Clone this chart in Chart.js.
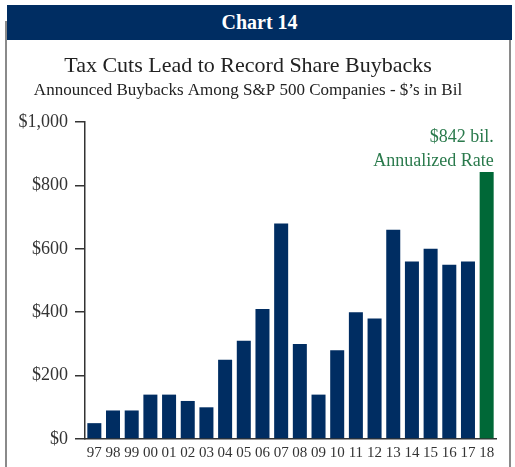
<!DOCTYPE html>
<html>
<head>
<meta charset="utf-8">
<script src="https://cdn.jsdelivr.net/npm/chart.js@4/dist/chart.umd.min.js"></script>
<style>
  html, body { margin: 0; padding: 0; background: #ffffff; }
  body { width: 515px; height: 467px; position: relative; overflow: hidden; }
  #header { position: absolute; left: 7px; top: 5px; width: 505px; height: 35px; background: #002d62;
    color: #ffffff; font: bold 20px 'Liberation Serif', 'DejaVu Serif', serif; text-align: center; line-height: 35px; }
  #lb { position: absolute; left: 5px; top: 21px; width: 2px; height: 446px; background: #8a8a8a; }
  #rb { position: absolute; left: 509px; top: 40px; width: 2px; height: 427px; background: #8a8a8a; }
  #wrap { position: absolute; left: 0; top: 0; width: 515px; height: 467px; }
  canvas { display: block; }
</style>
</head>
<body>
<div id="lb"></div>
<div id="rb"></div>
<div id="wrap"><canvas id="c" width="515" height="467"></canvas></div>
<div id="header">Chart 14</div>
<script>
const categories = ['97','98','99','00','01','02','03','04','05','06','07','08','09','10','11','12','13','14','15','16','17','18'];
const buybacks = [50, 90, 90, 140, 140, 120, 100, 250, 310, 410, 680, 300, 140, 280, 400, 380, 660, 560, 600, 550, 560, 842];
const yTicks = [0, 200, 400, 600, 800, 1000];
const annotationLines = ['$842 bil.', 'Annualized Rate'];
const titleText = 'Tax Cuts Lead to Record Share Buybacks';
const subtitleText = 'Announced Buybacks Among S&P 500 Companies - $\u2019s in Bil';

const NAVY = '#002d62';
const GREEN = '#006837';
const SERIF = "'Liberation Serif', 'DejaVu Serif', serif";

const barColors = buybacks.map((v, i) => i === buybacks.length - 1 ? GREEN : NAVY);

const annotationPlugin = {
  id: 'annot',
  afterDatasetsDraw(chart) {
    const meta = chart.getDatasetMeta(0);
    const bar = meta.data[meta.data.length - 1];
    const ctx = chart.ctx;
    ctx.save();
    ctx.font = '18px ' + SERIF;
    ctx.fillStyle = '#2a7a4c';
    ctx.textAlign = 'right';
    ctx.textBaseline = 'middle';
    const right = bar.x + bar.width / 2;
    ctx.fillText(annotationLines[0], right, bar.y - 35);
    ctx.fillText(annotationLines[1], right, bar.y - 11);
    ctx.restore();
  }
};

new Chart(document.getElementById('c'), {
  type: 'bar',
  data: {
    labels: categories,
    datasets: [{
      data: buybacks,
      backgroundColor: barColors,
      borderWidth: 0,
      categoryPercentage: 0.8,
      barPercentage: 0.9375
    }]
  },
  options: {
    responsive: false,
    animation: false,
    devicePixelRatio: 1,
    layout: { padding: { top: 0, left: 0, right: 19, bottom: 0 } },
    plugins: {
      legend: { display: false },
      tooltip: { enabled: false },
      title: {
        display: true,
        text: titleText,
        color: '#222222',
        font: { family: SERIF, size: 22, weight: 'normal' },
        padding: { top: 53.5, bottom: 0 }
      },
      subtitle: {
        display: true,
        text: subtitleText,
        color: '#222222',
        font: { family: SERIF, size: 17, weight: 'normal' },
        padding: { top: 0, bottom: 21.7 }
      }
    },
    scales: {
      x: {
        grid: { display: false, drawTicks: false, tickLength: 0 },
        border: { display: true, color: '#333333', width: 1.5 },
        afterFit(scale) { scale.height = 28; },
        ticks: { color: '#333333', font: { family: SERIF, size: 15 }, padding: 5, maxRotation: 0, autoSkip: false }
      },
      y: {
        min: 0,
        max: 1000,
        afterBuildTicks(scale) { scale.ticks = yTicks.map(v => ({ value: v })); },
        afterFit(scale) { scale.width = 85; },
        grid: { drawOnChartArea: false, drawTicks: true, tickLength: 10, color: '#333333', lineWidth: 1.5 },
        border: { display: true, color: '#333333', width: 1.5 },
        ticks: {
          color: '#333333',
          font: { family: SERIF, size: 18 },
          padding: 7,
          callback: v => '$' + v.toLocaleString('en-US')
        }
      }
    }
  },
  plugins: [annotationPlugin]
});
</script>
</body>
</html>
